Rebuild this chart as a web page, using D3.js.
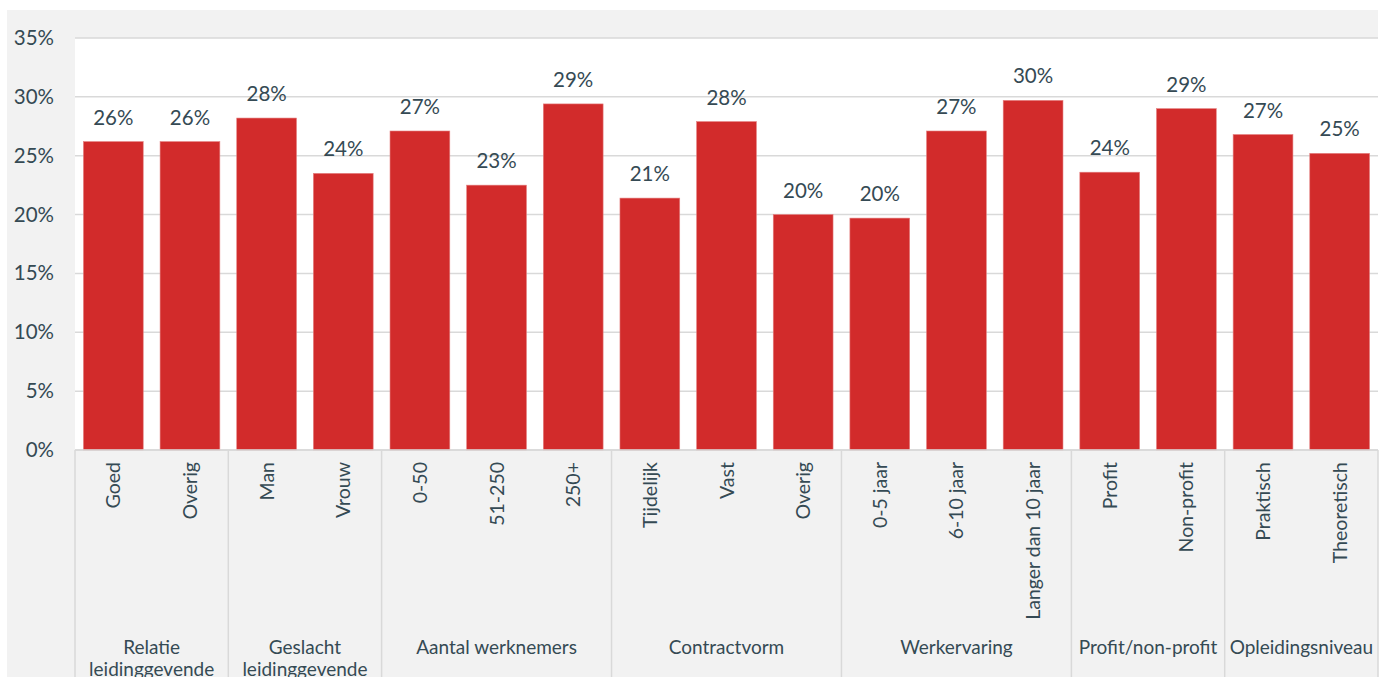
<!DOCTYPE html>
<html>
<head>
<meta charset="utf-8">
<script src="https://cdn.jsdelivr.net/npm/d3@7"></script>
<style>
    body { margin: 0; background: #ffffff; }
    svg text { font-family: Lato, "Open Sans", sans-serif; fill: #354a54; }
</style>
</head>
<body>
<div id="chart"></div>
<script>
'use strict';

// categories, grouped
var groups = ['Relatie leidinggevende', 'Geslacht leidinggevende', 'Aantal werknemers', 'Contractvorm', 'Werkervaring', 'Profit/non-profit', 'Opleidingsniveau'];
var groupSizes = [2, 2, 3, 3, 3, 2, 2];
var categories = ['Goed', 'Overig', 'Man', 'Vrouw', '0-50', '51-250', '250+', 'Tijdelijk', 'Vast', 'Overig', '0-5 jaar', '6-10 jaar', 'Langer dan 10 jaar', 'Profit', 'Non-profit', 'Praktisch', 'Theoretisch'];
var values = [26.2, 26.2, 28.2, 23.5, 27.1, 22.5, 29.4, 21.4, 27.9, 20.0, 19.7, 27.1, 29.7, 23.6, 29.0, 26.8, 25.2];
var yTicks = [0, 5, 10, 15, 20, 25, 30, 35];

var width = 1391, height = 677;
var config = {
    bg: { left: 7, top: 10, right: 1378 },
    plot: { left: 75, right: 1378, top: 38, bottom: 450 }
};

var svg = d3.select('#chart').append('svg')
    .attr('width', width)
    .attr('height', height);

// grey chart area
svg.append('rect')
    .attr('x', config.bg.left)
    .attr('y', config.bg.top)
    .attr('width', config.bg.right - config.bg.left)
    .attr('height', height - config.bg.top)
    .attr('fill', '#f2f2f2');

// white plot area
svg.append('rect')
    .attr('x', config.plot.left)
    .attr('y', config.plot.top)
    .attr('width', config.plot.right - config.plot.left)
    .attr('height', config.plot.bottom - config.plot.top)
    .attr('fill', '#ffffff');

var x = d3.scaleBand()
    .domain(d3.range(categories.length))
    .range([config.plot.left, config.plot.right])
    .paddingInner(0.22)
    .paddingOuter(0.11);

var y = d3.scaleLinear()
    .domain([0, 35])
    .range([config.plot.bottom, config.plot.top]);

// grid lines
svg.append('g').selectAll('line')
    .data(yTicks)
    .enter().append('line')
    .attr('x1', config.plot.left)
    .attr('x2', config.plot.right)
    .attr('y1', function (d) { return y(d); })
    .attr('y2', function (d) { return y(d); })
    .attr('stroke', '#d9d9d9')
    .attr('stroke-width', 1.5);

// y axis
var yAxis = d3.axisLeft(y)
    .tickValues(yTicks)
    .tickSize(0)
    .tickPadding(21)
    .tickFormat(function (d) { return d + '%'; });

var yAxisG = svg.append('g')
    .attr('transform', 'translate(' + config.plot.left + ',0)')
    .call(yAxis);
yAxisG.select('.domain').remove();
yAxisG.selectAll('text')
    .attr('font-size', 20.5)
    .attr('fill', '#354a54')
    .style('font-family', 'Lato, sans-serif');

// bars
svg.append('g').selectAll('rect')
    .data(values)
    .enter().append('rect')
    .attr('x', function (d, i) { return x(i); })
    .attr('y', function (d) { return y(d); })
    .attr('width', x.bandwidth())
    .attr('height', function (d) { return y(0) - y(d); })
    .attr('fill', '#d22b2b')
    .attr('stroke', '#e58080')
    .attr('stroke-width', 0.6);

// value labels
svg.append('g').selectAll('text')
    .data(values)
    .enter().append('text')
    .attr('x', function (d, i) { return x(i) + x.bandwidth() / 2; })
    .attr('y', function (d) { return y(d) - 17; })
    .attr('text-anchor', 'middle')
    .attr('font-size', 20.5)
    .text(function (d) { return Math.round(d) + '%'; });

// category labels, rotated
svg.append('g').selectAll('text')
    .data(categories)
    .enter().append('text')
    .attr('transform', function (d, i) {
        return 'translate(' + (x(i) + x.bandwidth() / 2 + 7) + ',' + (config.plot.bottom + 12) + ') rotate(-90)';
    })
    .attr('text-anchor', 'end')
    .attr('font-size', 19.5)
    .text(function (d) { return d; });

// group separators and labels
var step = x.step();
var starts = [0];
groupSizes.forEach(function (n, i) { starts.push(starts[i] + n); });

svg.append('line')
    .attr('x1', config.plot.left)
    .attr('x2', config.plot.right)
    .attr('y1', config.plot.bottom)
    .attr('y2', config.plot.bottom)
    .attr('stroke', '#d9d9d9')
    .attr('stroke-width', 1.5);

svg.append('g').selectAll('line')
    .data(starts)
    .enter().append('line')
    .attr('x1', function (d) { return config.plot.left + d * step; })
    .attr('x2', function (d) { return config.plot.left + d * step; })
    .attr('y1', config.plot.bottom)
    .attr('y2', height)
    .attr('stroke', '#d9d9d9')
    .attr('stroke-width', 1.5);

var groupLabels = svg.append('g').selectAll('text')
    .data(groups)
    .enter().append('text')
    .attr('x', function (d, i) { return config.plot.left + (starts[i] + groupSizes[i] / 2) * step; })
    .attr('y', 654)
    .attr('text-anchor', 'middle')
    .attr('font-size', 19);

// long labels wrap onto a second line
groupLabels.each(function (d) {
    var words = d.split(' ');
    var el = d3.select(this);
    if (d.indexOf('leidinggevende') > -1) {
        el.append('tspan').attr('x', el.attr('x')).attr('dy', 0).text(words[0]);
        el.append('tspan').attr('x', el.attr('x')).attr('dy', 22).text(words[1]);
    } else {
        el.text(d);
    }
});
</script>
</body>
</html>
